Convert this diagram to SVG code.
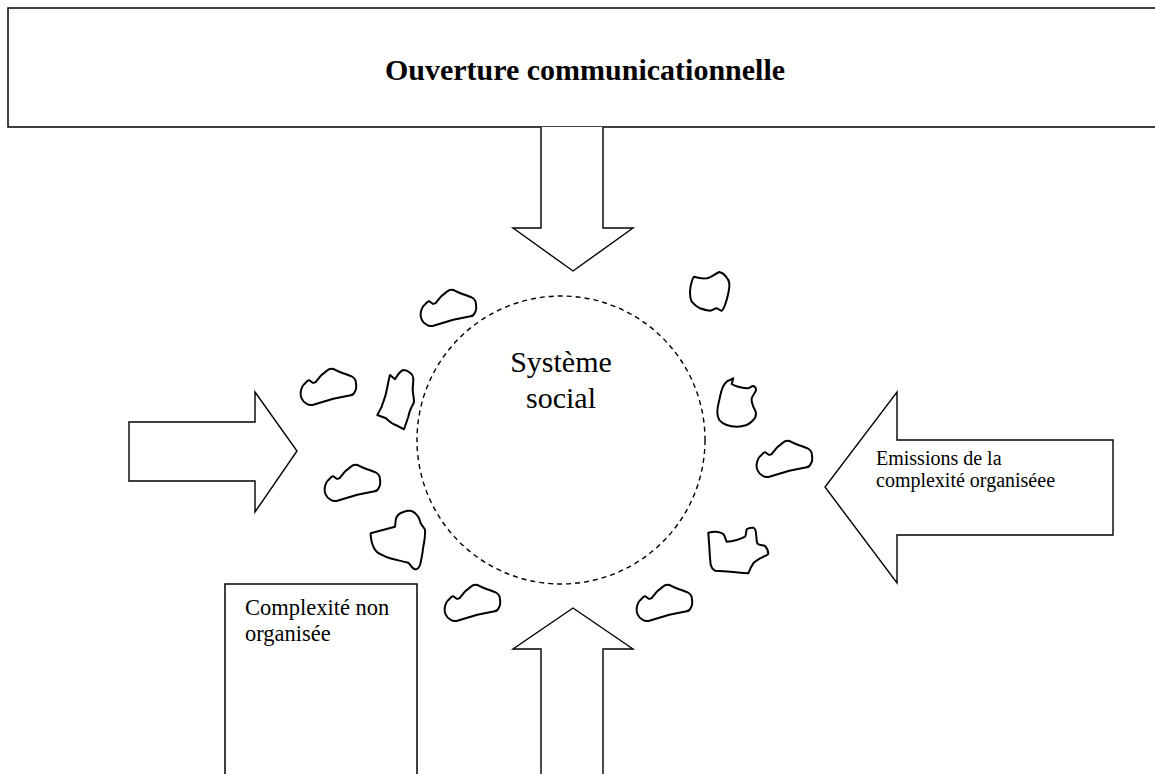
<svg xmlns="http://www.w3.org/2000/svg" xmlns:xlink="http://www.w3.org/1999/xlink" width="1155" height="774" viewBox="0 0 1155 774">
  <style>
    .box { fill: #fff; stroke: #000; stroke-width: 1.5; }
    .arrow { fill: #fff; stroke: #000; stroke-width: 1.4; stroke-linejoin: miter; }
    .blob { fill: none; stroke: #000; stroke-width: 2; stroke-linejoin: round; }
    .circ { fill: none; stroke: #000; stroke-width: 1.4; stroke-dasharray: 5 4; }
    .serif { font-family: "Liberation Serif", "Times New Roman", serif; fill: #000; }
  </style>
  <defs>
    <path id="cloud" class="blob" d="M6.7,35.7 C2,34 0,28 0.7,24 C1.5,19 3,17 5,15.5 C7,13 8.5,12 9.3,12.3 L12.7,14.7 C14,15 15,14.5 15.7,14 C19,10 21,7 23.3,5.7 C26,3 29,0.5 31.7,0.7 C35,1 37,3 40,4 C45,6 50,7.5 52.7,9 C55,10.5 56,13 56,15.7 C56.5,19 56,22 55,23.3 C54,26 52.5,27 50.7,27.3 L33.3,30.7 L13.3,36.7 C11,37.3 8.5,37 6.7,35.7 Z"/>
  </defs>
  <rect width="1155" height="774" fill="#fff"/>

  <g id="ouverture">
    <rect class="box" x="8" y="8" width="1160" height="119"/>
    <text class="serif" x="585" y="80" font-size="30" font-weight="bold" text-anchor="middle">Ouverture communicationnelle</text>
  </g>

  <g id="systeme-social">
    <circle class="circ" cx="561" cy="440" r="144"/>
    <text class="serif" x="561" y="372" font-size="30" text-anchor="middle">Système</text>
    <text class="serif" x="561" y="408" font-size="30" text-anchor="middle">social</text>
  </g>

  <g id="complexite-non-organisee">
    <rect class="box" x="225" y="584" width="192" height="200"/>
    <text class="serif" x="245" y="615" font-size="22.5">Complexité non</text>
    <text class="serif" x="245" y="641" font-size="22.5">organisée</text>
  </g>

  <g id="arrows">
    <path id="arrow-down" class="arrow" d="M541,127 L541,228 L513,228 L573,271 L633,228 L603,228 L603,127"/>
    <path id="arrow-up" class="arrow" d="M541,780 L541,649 L513,649 L573,608 L633,649 L603,649 L603,780"/>
    <path id="arrow-left-in" class="arrow" d="M129,422 L255,422 L255,392 L297,451 L255,512 L255,481 L129,481 Z"/>
    <g id="arrow-emissions">
      <path class="arrow" d="M1113,440 L897,440 L897,392 L825,487 L897,583 L897,535 L1113,535 Z"/>
      <text class="serif" x="876" y="465" font-size="20">Emissions de la</text>
      <text class="serif" x="876" y="487" font-size="20">complexité organiséee</text>
    </g>
  </g>

  <g id="blobs">
    <use xlink:href="#cloud" href="#cloud" x="420" y="289"/>
    <use xlink:href="#cloud" href="#cloud" x="300" y="368"/>
    <use xlink:href="#cloud" href="#cloud" x="324" y="464"/>
    <use xlink:href="#cloud" href="#cloud" x="444" y="584"/>
    <use xlink:href="#cloud" href="#cloud" x="756" y="440"/>
    <use xlink:href="#cloud" href="#cloud" x="636" y="584"/>
    <path class="blob" d="M390,375 L395,379.3 C398,374 400,371 403.3,370 C406,370 408,371 410,372.7 C412,374 413,376 413.3,378.3 C413.5,383 412.5,387 412.7,390 C413,394 414,398 414,401.7 C413.5,404 412.5,405 411.7,406.7 C410,410 409,413 408.3,416.7 L404,429.3 C400,427 397,425.5 393.3,424 C390,422 388,420 386,418.3 L377.3,415 C379,412 380.5,409 381.7,406.7 C383,402 385,398 386,393.3 C387.5,387 388.5,380 390,375 Z"/>
    <path class="blob" d="M370.7,533.3 L395,526.7 C395.5,523 395.5,519 396.7,516.7 C398.5,514 401,512.5 403.3,512 C406,511 409,510.5 411.7,511 C414.5,512 416.5,514 418.3,516.7 C419.5,519 420,521 420.7,523.3 C422,526 424.5,528 425,530 C425.5,536 424.5,541 423.3,546.7 C422.5,553 421.5,560 420,565 C419,567.5 417,569.5 415,569.3 C412,569 410.5,564.5 408.3,562.7 C402,561 396,560 390,558.3 C385,556.5 380,554.5 376.7,551.7 C373.5,548.5 372.5,545 371.7,541.7 C371,538.5 370.5,535.5 370.7,533.3 Z"/>
    <path class="blob" d="M694,276.7 C698,278 702,278.8 706.7,278.3 C711,277.5 715,274 719.3,272 C722,272.5 724.5,274.5 726,276.7 C728,279 729,281 729.3,283.3 C729.8,287 729,290 728.3,293.3 C727.5,297 726.5,301 725,305 C724,307.5 723,310 721.7,310.7 C720,311 718.5,308.5 716.7,308.3 C714.5,308.2 712.5,310.8 710,310.7 C706.5,310.5 703,309.5 700,308.3 C697,307 694,304.5 691.7,301.7 C690.3,298.5 689.8,295 690,291.7 C690.2,288 690.8,284.5 691.7,281.7 C692.3,279.5 693,277.8 694,276.7 Z"/>
    <path class="blob" d="M725,383.3 C726.5,381.5 728,380.5 730,380 L733.3,378.3 L731.7,384 C734,385.5 736,386.2 738.3,386.7 C741.5,387.5 745,388.5 748.3,388.3 C750,388 751.5,386 753.3,386 C755,386.5 756,388 756,390 C755.5,393 752.5,395.5 751.7,398.3 C751.3,401 752.3,404 753.3,406.7 C754.5,409 756,411 756,413.3 C756,416 755,418.5 753.3,420 C751.5,422 749,424 746.7,425 C743.5,426 740,426.8 736.7,426.7 C733,426.6 729.5,426 726.7,425 C724,424 721,422.3 719.3,420 C718,417.5 717.3,414.5 717.3,411.7 C717.3,407.5 718.5,403.5 719.3,400 C720,396.5 720.8,393 721.7,390 C722.5,387.5 723.8,385 725,383.3 Z"/>
    <path class="blob" d="M708.3,532.7 C711,532 713.8,531.5 716.7,531.7 C719,532 721.5,532.8 723.3,534 C725,536 725.5,539.5 726.7,541.7 C730,541.5 733.5,540.8 736.7,540 C739.5,539.2 742.5,538.2 745,536.7 C746.5,535 745.8,531.5 746.7,529.3 C748.5,528 751,527.5 753.3,527.7 C755,528.5 755.8,531 756,533.3 C756.5,536.5 756.3,540.5 757.3,543.3 C759,545.5 762.5,545 765,546 C767,548 768.3,551 768.3,554 C766,556 763,557 760,558.3 C757.5,559.8 755,561.5 753.3,563.3 C751,566.5 749.5,570 748.3,573.3 C742,572.8 736,572.3 730,571.7 C725,571.3 720,571 715,570.7 C713,569.5 711.3,567.5 710.7,565 C710,559 709.6,552.8 709.3,546.7 C709,542 708.6,537.3 708.3,532.7 Z"/>
  </g>
</svg>
